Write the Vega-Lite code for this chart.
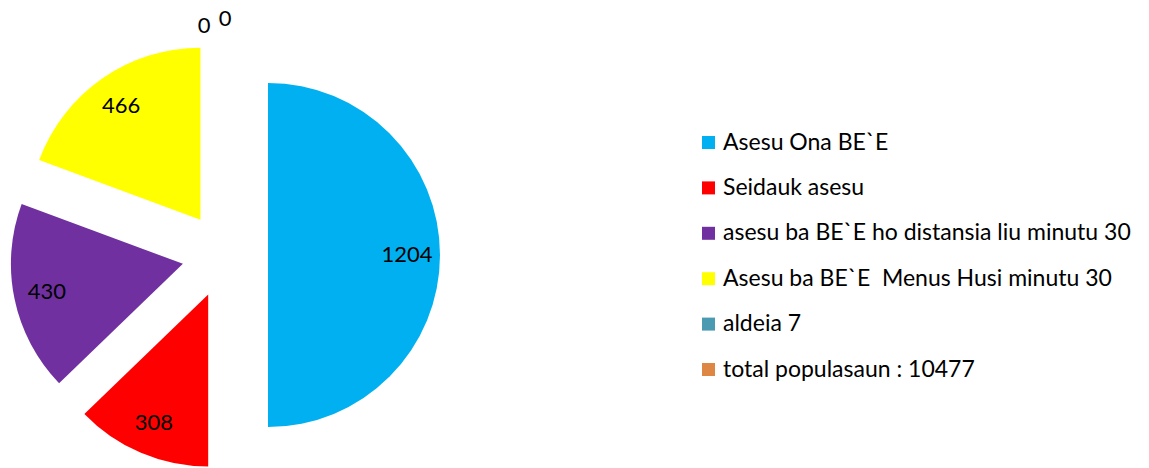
{
  "$schema": "https://vega.github.io/schema/vega-lite/v6.json",
  "width": 450,
  "height": 426,
  "padding": {"left": 0, "top": 42, "right": 699, "bottom": 0},
  "autosize": {"type": "none"},
  "background": "white",
  "config": {"view": {"stroke": null}, "font": "Lato"},
  "data": {
    "values": [
      {"cat": "Asesu Ona BE`E", "value": 1204, "order": 1},
      {"cat": "Seidauk asesu", "value": 308, "order": 2},
      {"cat": "asesu ba BE`E ho distansia liu minutu 30", "value": 430, "order": 3},
      {"cat": "Asesu ba BE`E\u00a0 Menus Husi minutu 30", "value": 466, "order": 4},
      {"cat": "aldeia 7", "value": 0, "order": 5},
      {"cat": "total populasaun : 10477", "value": 0, "order": 6}
    ]
  },
  "transform": [
    {"stack": "value", "groupby": [], "sort": [{"field": "order"}], "as": ["s", "e"]},
    {"joinaggregate": [{"op": "sum", "field": "value", "as": "total"}]},
    {"calculate": "(datum.s + datum.e) / 2", "as": "mid"}
  ],
  "layer": [
    {
      "mark": {
        "type": "arc",
        "radius": 172,
        "xOffset": {"expr": "43 * sin(PI * (datum.s + datum.e) / datum.total)"},
        "yOffset": {"expr": "-43 * cos(PI * (datum.s + datum.e) / datum.total)"}
      },
      "encoding": {
        "theta": {"field": "s", "type": "quantitative", "stack": null, "scale": {"domain": [0, 2408]}},
        "theta2": {"field": "e"},
        "color": {
          "field": "cat",
          "type": "nominal",
          "sort": null,
          "scale": {
            "domain": ["Asesu Ona BE`E", "Seidauk asesu", "asesu ba BE`E ho distansia liu minutu 30", "Asesu ba BE`E\u00a0 Menus Husi minutu 30", "aldeia 7", "total populasaun : 10477"],
            "range": ["#00B0F0", "#FF0000", "#7030A0", "#FFFF00", "#4A9BB1", "#DE8745"]
          },
          "legend": {
            "title": null,
            "orient": "none",
            "legendX": 697,
            "legendY": 89,
            "symbolType": "square",
            "symbolSize": 169,
            "symbolStrokeWidth": 0,
            "symbolOpacity": 1,
            "labelFont": "Lato",
            "labelFontSize": 23,
            "labelColor": "black",
            "labelLimit": 600,
            "labelOffset": 3,
            "rowPadding": 21.4,
            "padding": 0
          }
        }
      }
    },
    {
      "mark": {
        "type": "text",
        "radius": {"expr": "datum.value == 0 ? 236 : 182"},
        "dx": {"expr": "datum.cat == 'aldeia 7' ? -21 : 0"},
        "dy": {"expr": "datum.cat == 'aldeia 7' ? 7 : 0"},
        "font": "Lato",
        "fontSize": 22,
        "color": "black"
      },
      "encoding": {
        "theta": {"field": "mid", "type": "quantitative", "stack": null},
        "text": {"field": "value", "type": "quantitative"}
      }
    }
  ]
}
